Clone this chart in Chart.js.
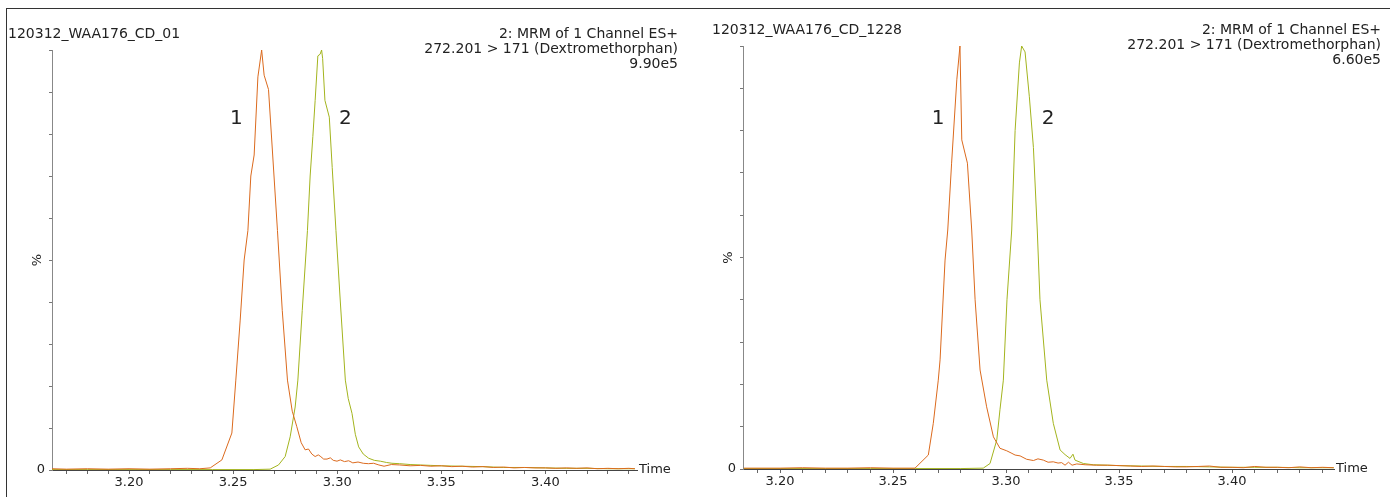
<!DOCTYPE html>
<html lang="en">
<head>
<meta charset="UTF-8">
<title>Dextromethorphan MRM</title>
<style>
  body { margin: 0; background: #fff; width: 1390px; height: 497px; overflow: hidden; position: relative; }
  .frame { position: absolute; left: 6px; top: 8px; width: 1400px; height: 500px; border-top: 1px solid #333; border-left: 1px solid #333; }
  .panel { position: absolute; top: 0; width: 695px; height: 497px; }
</style>
</head>
<body>
<div class="frame"></div>
<div class="panel" style="left:0"><canvas id="chartLeft"></canvas></div>
<div class="panel" style="left:695px"><canvas id="chartRight"></canvas></div>

<script src="https://cdn.jsdelivr.net/npm/chart.js"></script>
<script>
// ---- data (time in min, intensity in %) ----
var xTickLabels = ['3.20', '3.25', '3.30', '3.35', '3.40'];
var xMinorTicks = [3.17, 3.18, 3.19, 3.20, 3.21, 3.22, 3.23, 3.24, 3.25, 3.26, 3.27, 3.28, 3.29, 3.30,
                   3.31, 3.32, 3.33, 3.34, 3.35, 3.36, 3.37, 3.38, 3.39, 3.40, 3.41, 3.42, 3.43, 3.44];
var yTicks = [0, 10, 20, 30, 40, 50, 60, 70, 80, 90, 100];

// left run: 120312_WAA176_CD_01
var leftOrangeTime = [3.163, 3.170, 3.180, 3.190, 3.200, 3.210, 3.220, 3.228, 3.234, 3.239, 3.2446, 3.2494, 3.2513,
  3.2534, 3.2553, 3.2571, 3.2585, 3.2601, 3.2619, 3.2637, 3.2649, 3.2670, 3.2690, 3.2713, 3.2736, 3.2761, 3.2784,
  3.2806, 3.2827, 3.2846, 3.2862, 3.2878, 3.2894, 3.2909, 3.2918, 3.2935, 3.2951, 3.2967, 3.2981, 3.2999, 3.3015,
  3.3035, 3.3055, 3.3075, 3.3100, 3.3125, 3.3150, 3.3175, 3.3200, 3.3225, 3.3260, 3.3300, 3.3350, 3.3400, 3.3450,
  3.3500, 3.3550, 3.3600, 3.3650, 3.3700, 3.3750, 3.3800, 3.3850, 3.3900, 3.3950, 3.4000, 3.4050, 3.4100, 3.4150,
  3.4200, 3.4250, 3.4300, 3.4350, 3.4400, 3.4430];
var leftOrange = [0.3, 0.2, 0.3, 0.2, 0.3, 0.2, 0.3, 0.4, 0.3, 0.5, 2.4, 8.8, 21.4,
  35.7, 50, 57, 70, 75, 93.6, 100, 94, 90.6, 75, 57, 38, 21.4, 14,
  10.3, 6.5, 4.8, 5.0, 3.8, 3.2, 3.6, 3.3, 2.6, 2.6, 2.9, 2.3, 2.1, 2.4,
  2.0, 2.2, 1.7, 1.9, 1.6, 1.5, 1.6, 1.2, 0.9, 1.3, 1.2, 1.0, 1.1, 0.9,
  1.0, 0.8, 0.9, 0.7, 0.8, 0.6, 0.7, 0.5, 0.6, 0.5, 0.5, 0.4, 0.5, 0.4,
  0.5, 0.3, 0.4, 0.3, 0.4, 0.3];
var leftGreenTime = [3.163, 3.180, 3.200, 3.220, 3.240, 3.260, 3.2678, 3.2718, 3.2750, 3.2774, 3.2798, 3.2811,
  3.2832, 3.2857, 3.2870, 3.2883, 3.2894, 3.2907, 3.2918, 3.2925, 3.2930, 3.2941, 3.2962, 3.2976, 3.2994, 3.3015,
  3.3039, 3.3053, 3.3071, 3.3087, 3.3103, 3.3125, 3.3151, 3.3178, 3.3207, 3.3236, 3.3263, 3.3300, 3.3350, 3.3400,
  3.3450, 3.3500, 3.3600, 3.3700, 3.3800, 3.3900, 3.4000, 3.4100, 3.4200, 3.4300, 3.4430];
var leftGreen = [0.1, 0.1, 0.1, 0.1, 0.1, 0.1, 0.2, 1.2, 3.2, 7.9, 15, 21.4,
  38, 57, 70, 79.4, 88, 98.6, 99, 100, 98, 88, 84, 72, 57, 40,
  21.4, 17, 13.5, 8.5, 5.5, 3.8, 2.8, 2.3, 2.1, 1.8, 1.6, 1.5, 1.3, 1.2,
  1.1, 1.0, 0.9, 0.8, 0.6, 0.6, 0.5, 0.4, 0.4, 0.3, 0.3];

// right run: 120312_WAA176_CD_1228
var rightOrangeTime = [3.184, 3.200, 3.210, 3.220, 3.230, 3.240, 3.250, 3.2597, 3.2656, 3.2678, 3.2700, 3.2708,
  3.2730, 3.2742, 3.2759, 3.2782, 3.2796, 3.2804, 3.2829, 3.2848, 3.2863, 3.2885, 3.2914, 3.2944, 3.2973, 3.3003,
  3.3022, 3.3040, 3.3062, 3.3091, 3.3121, 3.3141, 3.3165, 3.3186, 3.3209, 3.3230, 3.3246, 3.3261, 3.3276, 3.3292,
  3.3313, 3.3350, 3.3400, 3.3450, 3.3500, 3.3550, 3.3600, 3.3650, 3.3700, 3.3750, 3.3800, 3.3850, 3.3900, 3.3950,
  3.4000, 3.4050, 3.4100, 3.4150, 3.4200, 3.4250, 3.4300, 3.4350, 3.4400, 3.4450];
var rightOrange = [0.2, 0.2, 0.3, 0.2, 0.2, 0.3, 0.2, 0.2, 3.3, 10.8, 21, 25.8,
  49.4, 56.5, 72.3, 92, 100, 77.8, 72.3, 56.5, 40, 23.4, 14.7, 7.6, 4.9, 4.3,
  3.8, 3.3, 3.1, 2.3, 2.0, 2.4, 2.1, 1.6, 1.7, 1.4, 1.5, 0.9, 1.6, 0.9,
  1.2, 1.0, 0.9, 0.9, 0.8, 0.7, 0.6, 0.7, 0.6, 0.5, 0.5, 0.6, 0.7, 0.4,
  0.4, 0.3, 0.6, 0.4, 0.4, 0.3, 0.5, 0.3, 0.4, 0.3];
var rightGreenTime = [3.184, 3.200, 3.220, 3.240, 3.260, 3.280, 3.2899, 3.2929, 3.2959, 3.2973, 3.2988, 3.3004,
  3.3025, 3.3040, 3.3059, 3.3069, 3.3084, 3.3103, 3.3121, 3.3138, 3.3150, 3.3180, 3.3209, 3.3239, 3.3261, 3.3283,
  3.3296, 3.3305, 3.3342, 3.3386, 3.3450, 3.3500, 3.3600, 3.3700, 3.3800, 3.3900, 3.4000, 3.4100, 3.4200, 3.4300,
  3.4450];
var rightGreen = [0.1, 0.1, 0.1, 0.1, 0.1, 0.1, 0.2, 1.3, 6.9, 14, 21, 40,
  56.5, 80, 96, 100, 98.6, 88, 76, 56.5, 40, 21, 10.8, 4.5, 3.4, 2.5,
  3.5, 2.1, 1.3, 1.0, 0.9, 0.8, 0.7, 0.6, 0.6, 0.5, 0.4, 0.4, 0.4, 0.3,
  0.3];

var ORANGE = '#db6a1e';
var GREEN = '#a3b41e';
var FONT = '"DejaVu Sans", Verdana, sans-serif';

function pts(times, values) {
  return times.map(function (t, i) { return { x: t, y: values[i] }; });
}

// draws the header, peak numbers, % and Time labels
var panelText = {
  id: 'panelText',
  afterDraw: function (chart) {
    var o = chart.options.plugins.panelText;
    var ctx = chart.ctx;
    var area = chart.chartArea;
    var xs = chart.scales.x, ys = chart.scales.y;
    ctx.save();
    ctx.fillStyle = '#222';
    ctx.textBaseline = 'middle';
    ctx.font = '14px ' + FONT;
    ctx.textAlign = 'left';
    ctx.fillText(o.title, o.titleX, o.titleY);
    ctx.textAlign = 'right';
    o.header.forEach(function (line, i) {
      ctx.fillText(line, o.headerX, o.titleY + i * 15);
    });
    ctx.font = '13px ' + FONT;
    ctx.textAlign = 'left';
    ctx.fillText('Time', area.right + 2, area.bottom);
    ctx.save();
    ctx.translate(area.left - 14, (area.top + area.bottom) / 2);
    ctx.rotate(-Math.PI / 2);
    ctx.textAlign = 'center';
    ctx.fillText('%', 0, 0);
    ctx.restore();
    ctx.font = '20px ' + FONT;
    ctx.textAlign = 'center';
    o.peaks.forEach(function (p) {
      ctx.fillText(p.text, xs.getPixelForValue(p.t), ys.getPixelForValue(p.v));
    });
    ctx.restore();
  }
};

function makeChart(id, orangeT, orangeV, greenT, greenV, xmin, xmax, pad, text) {
  var el = document.getElementById(id);
  el.width = 695; el.height = 497;
  el.style.width = '695px'; el.style.height = '497px';
  return new Chart(el.getContext('2d'), {
    type: 'line',
    data: {
      datasets: [
        { label: '1', data: pts(orangeT, orangeV), borderColor: ORANGE, borderWidth: 1, pointRadius: 0, tension: 0 },
        { label: '2', data: pts(greenT, greenV), borderColor: GREEN, borderWidth: 1, pointRadius: 0, tension: 0 }
      ]
    },
    options: {
      responsive: false,
      animation: false,
      layout: { padding: pad },
      plugins: { legend: { display: false }, tooltip: { enabled: false }, panelText: text },
      scales: {
        x: {
          type: 'linear', min: xmin, max: xmax,
          afterBuildTicks: function (axis) {
            axis.ticks = xMinorTicks.filter(function (v) { return v >= axis.min && v <= axis.max; })
              .map(function (v) { return { value: v }; });
          },
          afterFit: function (axis) { axis.height = pad.xh; },
          border: { color: '#444', width: 1 },
          grid: { drawOnChartArea: false, drawTicks: true, tickLength: 4, color: '#666' },
          ticks: {
            autoSkip: false, maxRotation: 0, padding: 1, color: '#222', font: { family: FONT, size: 13 },
            callback: function (v) { var s = Number(v).toFixed(2); return xTickLabels.indexOf(s) >= 0 ? s : ''; }
          }
        },
        y: {
          min: 0, max: 100,
          afterBuildTicks: function (axis) { axis.ticks = yTicks.map(function (v) { return { value: v }; }); },
          afterFit: function (axis) { axis.width = pad.yw; },
          border: { color: '#888', width: 1 },
          grid: { drawOnChartArea: false, drawTicks: true, tickLength: 3, color: '#777' },
          ticks: {
            padding: 4, color: '#222', font: { family: FONT, size: 13 },
            callback: function (v) { return v === 0 ? '0' : ''; }
          }
        }
      }
    },
    plugins: [panelText]
  });
}

makeChart('chartLeft', leftOrangeTime, leftOrange, leftGreenTime, leftGreen, 3.163, 3.444,
  { left: 0, top: 50, right: 58, bottom: 0, xh: 27, yw: 52 },
  {
    title: '120312_WAA176_CD_01', titleX: 8, titleY: 34,
    header: ['2: MRM of 1 Channel ES+', '272.201 > 171 (Dextromethorphan)', '9.90e5'], headerX: 678,
    peaks: [{ text: '1', t: 3.2515, v: 83.6 }, { text: '2', t: 3.3039, v: 83.6 }]
  });

makeChart('chartRight', rightOrangeTime, rightOrange, rightGreenTime, rightGreen, 3.1836, 3.4451,
  { left: 0, top: 46, right: 56, bottom: 0, xh: 28, yw: 48 },
  {
    title: '120312_WAA176_CD_1228', titleX: 17, titleY: 30,
    header: ['2: MRM of 1 Channel ES+', '272.201 > 171 (Dextromethorphan)', '6.60e5'], headerX: 686,
    peaks: [{ text: '1', t: 3.2699, v: 82.7 }, { text: '2', t: 3.3186, v: 82.7 }]
  });
</script>
</body>
</html>
